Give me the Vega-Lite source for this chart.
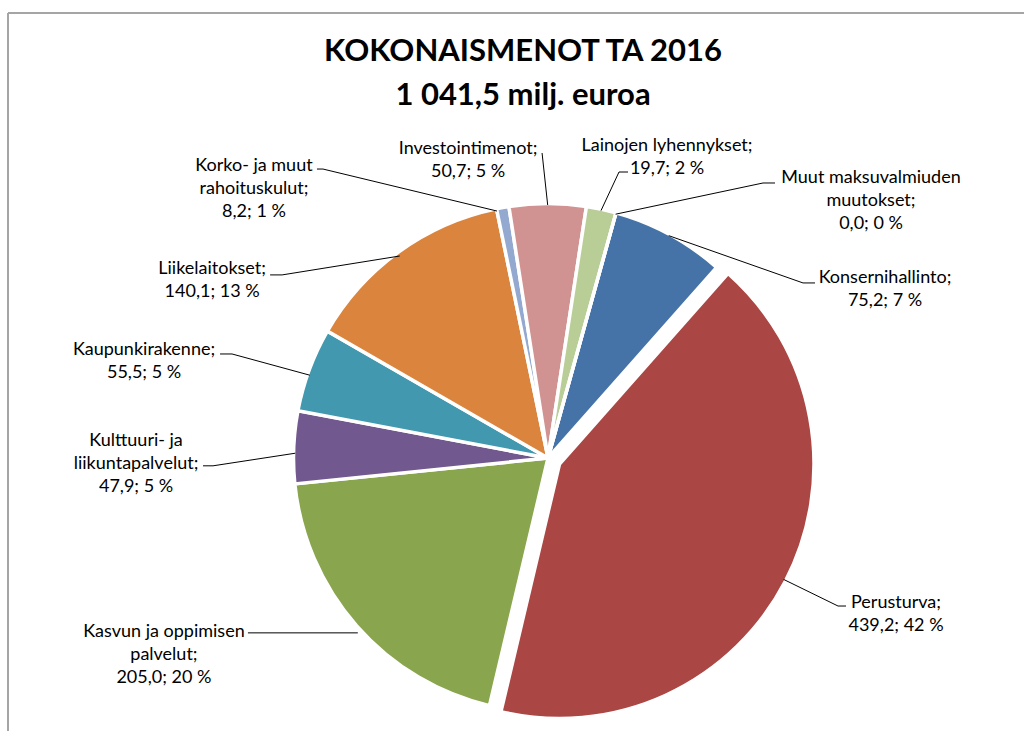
{
  "$schema": "https://vega.github.io/schema/vega-lite/v6.json",
  "width": 1016,
  "height": 718,
  "autosize": "none",
  "padding": {"left": 8, "top": 13, "right": 0, "bottom": 0},
  "background": "white",
  "config": {
    "view": {"stroke": "#a5a5a5", "strokeWidth": 2, "strokeDash": [1016, 1734, 718, 0]},
    "text": {"font": "Lato", "fontSize": 18, "lineHeight": 23, "align": "center", "baseline": "middle", "lineBreak": "\n", "color": "#000000"},
    "rule": {"color": "#000000", "strokeWidth": 1}
  },
  "title": {
    "text": ["KOKONAISMENOT TA 2016", "1 041,5 milj. euroa"],
    "font": "Lato",
    "fontSize": 31,
    "fontWeight": "bold",
    "lineHeight": 44,
    "color": "#000000",
    "anchor": "middle",
    "offset": -99,
    "dx": 7
  },
  "params": [{"name": "startAngle", "value": 0.2705}],
  "data": {
    "values": [
      {"order": 1, "name": "Konsernihallinto", "value": 75.2, "label": "Konsernihallinto;\n75,2; 7 %"},
      {"order": 2, "name": "Perusturva", "value": 439.2, "label": "Perusturva;\n439,2; 42 %"},
      {"order": 3, "name": "Kasvun ja oppimisen palvelut", "value": 205.0, "label": "Kasvun ja oppimisen\npalvelut;\n205,0; 20 %"},
      {"order": 4, "name": "Kulttuuri- ja liikuntapalvelut", "value": 47.9, "label": "Kulttuuri- ja\nliikuntapalvelut;\n47,9; 5 %"},
      {"order": 5, "name": "Kaupunkirakenne", "value": 55.5, "label": "Kaupunkirakenne;\n55,5; 5 %"},
      {"order": 6, "name": "Liikelaitokset", "value": 140.1, "label": "Liikelaitokset;\n140,1; 13 %"},
      {"order": 7, "name": "Korko- ja muut rahoituskulut", "value": 8.2, "label": "Korko- ja muut\nrahoituskulut;\n8,2; 1 %"},
      {"order": 8, "name": "Investointimenot", "value": 50.7, "label": "Investointimenot;\n50,7; 5 %"},
      {"order": 9, "name": "Lainojen lyhennykset", "value": 19.7, "label": "Lainojen lyhennykset;\n19,7; 2 %"},
      {"order": 10, "name": "Muut maksuvalmiuden muutokset", "value": 0.0, "label": "Muut maksuvalmiuden\nmuutokset;\n0,0; 0 %"}
    ]
  },
  "transform": [
    {"window": [{"op": "sum", "field": "value", "as": "cum1"}], "sort": [{"field": "order", "order": "ascending"}]},
    {"joinaggregate": [{"op": "sum", "field": "value", "as": "total"}]},
    {"calculate": "startAngle + 2 * PI * (datum.cum1 - datum.value) / datum.total", "as": "a0"},
    {"calculate": "startAngle + 2 * PI * datum.cum1 / datum.total", "as": "a1"},
    {"calculate": "sin((datum.a0 + datum.a1) / 2)", "as": "sx"},
    {"calculate": "cos((datum.a0 + datum.a1) / 2)", "as": "sy"}
  ],
  "encoding": {
    "x": {"field": "sx", "type": "quantitative", "scale": {"domain": [-2.13439, 1.88142], "nice": false, "zero": false}, "axis": null},
    "y": {"field": "sy", "type": "quantitative", "scale": {"domain": [-1.07905, 1.75889], "nice": false, "zero": false}, "axis": null}
  },
  "layer": [
    {
      "transform": [{"filter": "datum.name !== 'Perusturva'"}],
      "mark": {"type": "arc", "outerRadius": 254.5, "stroke": "white", "strokeWidth": 3.5},
      "encoding": {
        "x": {"datum": 0, "type": "quantitative"},
        "y": {"datum": 0, "type": "quantitative"},
        "theta": {"field": "a0", "type": "quantitative", "scale": null},
        "theta2": {"field": "a1"},
        "color": {"field": "name", "type": "nominal", "legend": null, "scale": {
          "domain": ["Konsernihallinto", "Perusturva", "Kasvun ja oppimisen palvelut", "Kulttuuri- ja liikuntapalvelut", "Kaupunkirakenne", "Liikelaitokset", "Korko- ja muut rahoituskulut", "Investointimenot", "Lainojen lyhennykset", "Muut maksuvalmiuden muutokset"],
          "range": ["#4572A7", "#AA4643", "#89A54E", "#71588F", "#4198AF", "#DB843D", "#93A9CF", "#D19392", "#B9CD96", "#A99BBD"]}}
      }
    },
    {
      "transform": [{"filter": "datum.name === 'Perusturva'"}],
      "mark": {"type": "arc", "outerRadius": 254.5, "stroke": "white", "strokeWidth": 3.5, "xOffset": 11.5, "yOffset": 6},
      "encoding": {
        "x": {"datum": 0, "type": "quantitative"},
        "y": {"datum": 0, "type": "quantitative"},
        "theta": {"field": "a0", "type": "quantitative", "scale": null},
        "theta2": {"field": "a1"},
        "color": {"field": "name", "type": "nominal", "legend": null}
      }
    },
    {
      "transform": [{"filter": "datum.name === 'Investointimenot'"}],
      "layer": [
        {"mark": {"type": "rule", "x2Offset": -5.6, "y2Offset": -52}, "encoding": {"x2": {"field": "sx"}, "y2": {"field": "sy"}}},
        {"mark": {"type": "text", "dx": -79.6, "dy": -56}, "encoding": {"text": {"field": "label"}}}
      ]
    },
    {
      "transform": [{"filter": "datum.name === 'Lainojen lyhennykset'"}],
      "layer": [
        {"mark": {"type": "rule", "x2Offset": 18, "y2Offset": -38.6}, "encoding": {"x2": {"field": "sx"}, "y2": {"field": "sy"}}},
        {"mark": {"type": "rule", "xOffset": 18, "yOffset": -38.6, "x2Offset": 27, "y2Offset": -38.6}, "encoding": {"x2": {"field": "sx"}, "y2": {"field": "sy"}}},
        {"mark": {"type": "text", "dx": 66, "dy": -64.6}, "encoding": {"text": {"field": "label"}}}
      ]
    },
    {
      "transform": [{"filter": "datum.name === 'Muut maksuvalmiuden muutokset'"}],
      "layer": [
        {"mark": {"type": "rule", "x2Offset": 147.4, "y2Offset": -31.2}, "encoding": {"x2": {"field": "sx"}, "y2": {"field": "sy"}}},
        {"mark": {"type": "rule", "xOffset": 147.4, "yOffset": -31.2, "x2Offset": 159.4, "y2Offset": -31.2}, "encoding": {"x2": {"field": "sx"}, "y2": {"field": "sy"}}},
        {"mark": {"type": "text", "dx": 255.4, "dy": -36.2}, "encoding": {"text": {"field": "label"}}}
      ]
    },
    {
      "transform": [{"filter": "datum.name === 'Konsernihallinto'"}],
      "layer": [
        {"mark": {"type": "rule", "x2Offset": 134.3, "y2Offset": 47.3}, "encoding": {"x2": {"field": "sx"}, "y2": {"field": "sy"}}},
        {"mark": {"type": "rule", "xOffset": 134.3, "yOffset": 47.3, "x2Offset": 146.3, "y2Offset": 47.3}, "encoding": {"x2": {"field": "sx"}, "y2": {"field": "sy"}}},
        {"mark": {"type": "text", "dx": 216.3, "dy": 42.3}, "encoding": {"text": {"field": "label"}}}
      ]
    },
    {
      "transform": [{"filter": "datum.name === 'Perusturva'"}],
      "layer": [
        {"mark": {"type": "rule", "xOffset": 11, "yOffset": 5, "x2Offset": 65.4, "y2Offset": 31.6}, "encoding": {"x2": {"field": "sx"}, "y2": {"field": "sy"}}},
        {"mark": {"type": "rule", "xOffset": 65.4, "yOffset": 31.6, "x2Offset": 73.4, "y2Offset": 31.6}, "encoding": {"x2": {"field": "sx"}, "y2": {"field": "sy"}}},
        {"mark": {"type": "text", "dx": 123.4, "dy": 28.6}, "encoding": {"text": {"field": "label"}}}
      ]
    },
    {
      "transform": [{"filter": "datum.name === 'Kasvun ja oppimisen palvelut'"}],
      "layer": [
        {"mark": {"type": "rule", "xOffset": 0, "yOffset": 8, "x2Offset": -109.9, "y2Offset": 8}, "encoding": {"x2": {"field": "sx"}, "y2": {"field": "sy"}}},
        {"mark": {"type": "text", "dx": -193.9, "dy": 7}, "encoding": {"text": {"field": "label"}}}
      ]
    },
    {
      "transform": [{"filter": "datum.name === 'Kulttuuri- ja liikuntapalvelut'"}],
      "layer": [
        {"mark": {"type": "rule", "xOffset": 0, "yOffset": 6, "x2Offset": -82.2, "y2Offset": 18.6}, "encoding": {"x2": {"field": "sx"}, "y2": {"field": "sy"}}},
        {"mark": {"type": "rule", "xOffset": -82.2, "yOffset": 18.6, "x2Offset": -92.2, "y2Offset": 18.6}, "encoding": {"x2": {"field": "sx"}, "y2": {"field": "sy"}}},
        {"mark": {"type": "text", "dx": -159.2, "dy": -6.4}, "encoding": {"text": {"field": "label"}}}
      ]
    },
    {
      "transform": [{"filter": "datum.name === 'Kaupunkirakenne'"}],
      "layer": [
        {"mark": {"type": "rule", "xOffset": -1, "yOffset": 5, "x2Offset": -78.7, "y2Offset": -16.2}, "encoding": {"x2": {"field": "sx"}, "y2": {"field": "sy"}}},
        {"mark": {"type": "rule", "xOffset": -78.7, "yOffset": -16.2, "x2Offset": -90.7, "y2Offset": -16.2}, "encoding": {"x2": {"field": "sx"}, "y2": {"field": "sy"}}},
        {"mark": {"type": "text", "dx": -166.7, "dy": -20.2}, "encoding": {"text": {"field": "label"}}}
      ]
    },
    {
      "transform": [{"filter": "datum.name === 'Liikelaitokset'"}],
      "layer": [
        {"mark": {"type": "rule", "xOffset": 0, "yOffset": 3, "x2Offset": -117.6, "y2Offset": 21.9}, "encoding": {"x2": {"field": "sx"}, "y2": {"field": "sy"}}},
        {"mark": {"type": "rule", "xOffset": -117.6, "yOffset": 21.9, "x2Offset": -129.6, "y2Offset": 21.9}, "encoding": {"x2": {"field": "sx"}, "y2": {"field": "sy"}}},
        {"mark": {"type": "text", "dx": -187.6, "dy": 15.9}, "encoding": {"text": {"field": "label"}}}
      ]
    },
    {
      "transform": [{"filter": "datum.name === 'Korko- ja muut rahoituskulut'"}],
      "layer": [
        {"mark": {"type": "rule", "xOffset": -6, "yOffset": 2, "x2Offset": -180, "y2Offset": -40}, "encoding": {"x2": {"field": "sx"}, "y2": {"field": "sy"}}},
        {"mark": {"type": "rule", "xOffset": -180, "yOffset": -40, "x2Offset": -186, "y2Offset": -40}, "encoding": {"x2": {"field": "sx"}, "y2": {"field": "sy"}}},
        {"mark": {"type": "text", "dx": -249, "dy": -43}, "encoding": {"text": {"field": "label"}}}
      ]
    }
  ]
}
